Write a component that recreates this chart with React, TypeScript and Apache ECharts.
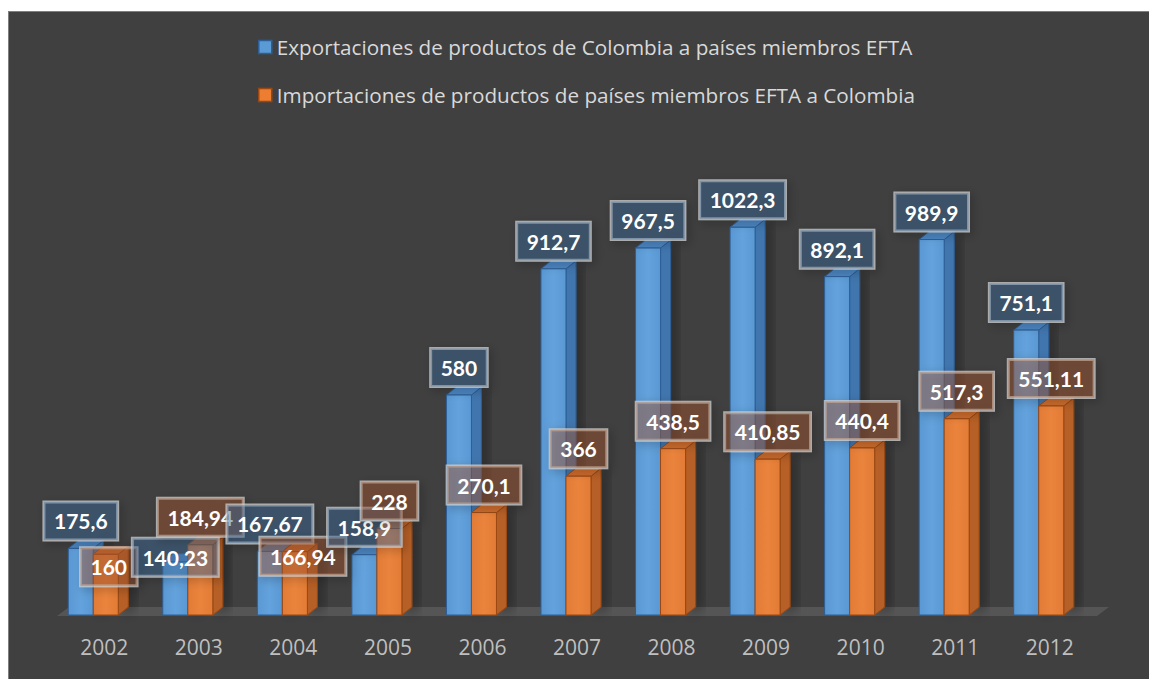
import React, { useEffect, useRef } from "react";
import * as echarts from "echarts";

const years = ["2002", "2003", "2004", "2005", "2006", "2007", "2008", "2009", "2010", "2011", "2012"];
const exportaciones = [175.6, 140.23, 167.67, 158.9, 580, 912.7, 967.5, 1022.3, 892.1, 989.9, 751.1];
const importaciones = [160, 184.94, 166.94, 228, 270.1, 366, 438.5, 410.85, 440.4, 517.3, 551.11];
const seriesNames = [
  "Exportaciones de productos de Colombia a países miembros EFTA",
  "Importaciones de productos de países miembros EFTA a Colombia",
];

// label nudges (style only): [series][category] -> [dx, dy]
const labelNudge: Record<string, [number, number]> = {
  "0-1": [0, 23],
  "1-0": [3, 40],
  "1-2": [8, 32],
};

const W = 1141;
const H = 668;
const GRID_LEFT = 48;
const GRID_RIGHT = 53;
const GRID_BOTTOM = 65;
const GRID_TOP = 72;
const DX = 10;
const DY = 8;

const palette = [
  { front: "#5a98d3", side: "#3f74ad", top: "#4c86c2", border: "#2d5f96", box: "rgba(59,109,159,0.4)" },
  { front: "#e27b35", side: "#b65e26", top: "#cb6b2c", border: "#9a4813", box: "rgba(171,89,44,0.4)" },
];

const fmt = (v: number) => String(v).replace(".", ",");

function makeRender(si: number) {
  return (params: any, api: any) => {
    const ci = api.value(0);
    const v = api.value(1);
    const top = api.coord([ci, v]);
    const base = api.coord([ci, 0]);
    const bw = api.size([1, 0])[0];
    const w = bw * 0.2646;
    const x0 = top[0] + (si === 0 ? -0.381 : -0.1164) * bw;
    const ty = top[1];
    const by = base[1];
    const c = palette[si];
    const nudge = labelNudge[si + "-" + ci] || [0, 0];
    return {
      type: "group",
      children: [
        {
          type: "polygon",
          z2: 1,
          shape: { points: [[x0 + w, ty], [x0 + w + DX, ty - DY], [x0 + w + DX, by - DY], [x0 + w, by]] },
          style: {
            fill: c.side,
            stroke: c.border,
            lineWidth: 1,
            shadowColor: "rgba(0,0,0,0.35)",
            shadowBlur: 12,
            shadowOffsetX: 6,
            shadowOffsetY: 0,
          },
        },
        {
          type: "polygon",
          z2: 1,
          shape: { points: [[x0, ty], [x0 + DX, ty - DY], [x0 + w + DX, ty - DY], [x0 + w, ty]] },
          style: { fill: c.top, stroke: c.border, lineWidth: 1 },
        },
        {
          type: "rect",
          z2: 2,
          shape: { x: x0, y: ty, width: w, height: by - ty },
          style: {
            fill: new echarts.graphic.LinearGradient(0, 0, 1, 0, [
              { offset: 0, color: c.front },
              { offset: 0.5, color: si === 0 ? "#63a2dc" : "#ea843d" },
              { offset: 1, color: c.front },
            ]),
            stroke: c.border,
            lineWidth: 1,
          },
        },
        {
          type: "text",
          z2: 100 + ci * 2 + si,
          x: x0 + w / 2 + nudge[0],
          y: ty - 8.5 + nudge[1],
          style: {
            text: fmt(v),
            fill: "#ffffff",
            font: "bold 21px Lato",
            lineHeight: 24,
            align: "center",
            verticalAlign: "bottom",
            backgroundColor: c.box,
            borderColor: "rgba(205,205,205,0.75)",
            borderWidth: 1.5,
            padding: [7, 10, 7, 10],
            shadowColor: "rgba(0,0,0,0.35)",
            shadowBlur: 10,
            shadowOffsetX: 3,
            shadowOffsetY: 3,
          },
        },
      ],
    };
  };
}

export default function App() {
  const ref = useRef<HTMLDivElement>(null);
  useEffect(() => {
    if (!ref.current) return;
    const chart = echarts.init(ref.current, undefined, { renderer: "svg" });
    const baseY = H - GRID_BOTTOM + 1;
    const floorL = GRID_LEFT;
    const floorR = W - GRID_RIGHT;
    chart.setOption({
      animation: false,
      backgroundColor: "#404040",
      legend: {
        orient: "vertical",
        left: 244,
        top: 18,
        itemGap: 24,
        itemWidth: 13,
        itemHeight: 13,
        icon: "rect",
        textStyle: { color: "#d9d9d9", fontSize: 20.7, fontFamily: "Open Sans", lineHeight: 24 },
        data: [
          { name: seriesNames[0], itemStyle: { color: "#5b9bd5", borderColor: "#2d5f96", borderWidth: 1.5 } },
          { name: seriesNames[1], itemStyle: { color: "#ed7d31", borderColor: "#9a4813", borderWidth: 1.5 } },
        ],
      },
      grid: { left: GRID_LEFT, right: GRID_RIGHT, top: GRID_TOP, bottom: GRID_BOTTOM },
      xAxis: {
        type: "category",
        data: years,
        boundaryGap: true,
        axisLine: { show: false },
        axisTick: { show: false },
        axisLabel: { color: "#bfbfbf", fontSize: 21, fontFamily: "Open Sans", margin: 21 },
      },
      yAxis: { type: "value", min: 0, max: 1400, show: false, splitLine: { show: false } },
      graphic: [
        {
          type: "polygon",
          z: 0,
          shape: {
            points: [
              [floorL, baseY],
              [floorR, baseY],
              [floorR + 12, baseY - 9],
              [floorL + 12, baseY - 9],
            ],
          },
          style: { fill: "#555555" },
        },
      ],
      series: [0, 1].map((si) => ({
        type: "custom",
        name: seriesNames[si],
        itemStyle: { color: si === 0 ? "#5b9bd5" : "#ed7d31" },
        renderItem: makeRender(si),
        encode: { x: 0, y: 1 },
        data: (si === 0 ? exportaciones : importaciones).map((v, i) => [i, v]),
        z: 2,
      })),
    });
    return () => chart.dispose();
  }, []);
  return (
    <div
      style={{
        position: "absolute",
        left: 8,
        top: 11,
        width: W,
        height: H,
        border: "1px solid #7f7f7f",
        background: "#404040",
      }}
    >
      <div ref={ref} style={{ width: W, height: H }} />
    </div>
  );
}
